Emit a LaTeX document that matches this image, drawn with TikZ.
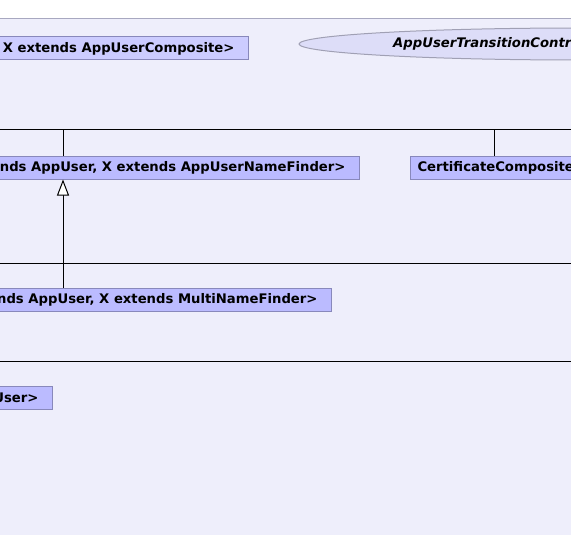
\documentclass[tikz,border=0pt]{standalone}
\usepackage{fontspec}
\setmainfont{DejaVu Sans}
\usetikzlibrary{arrows.meta,positioning,shapes.geometric}

\definecolor{pkgbg}{HTML}{EEEEFB}
\definecolor{pkgline}{HTML}{A8A8C0}
\definecolor{clsfill}{HTML}{BBBBFF}
\definecolor{clsfilltop}{HTML}{CCCCFF}
\definecolor{clsline}{HTML}{8888BB}
\definecolor{ucfill}{HTML}{DDDDF8}
\definecolor{ucline}{HTML}{A0A0B4}

\newcommand{\rpad}{\hspace*{7pt}}

\begin{document}
\begin{tikzpicture}[x=1pt, y=-1pt,
    every node/.style={font=\fontsize{13.2}{15}\selectfont\bfseries},
    cls/.style={rectangle, draw=clsline, fill=clsfill, line width=1pt,
                minimum height=23pt, inner xsep=7pt, inner ysep=0pt},
    uc/.style={ellipse, draw=ucline, fill=ucfill, line width=1pt,
               minimum width=562pt, minimum height=32pt},
    bus/.style={line width=1pt},
    inh/.style={line width=1pt, -{Triangle[length=16pt, width=12pt, fill=white]}},
  ]
  \useasboundingbox (0,0) rectangle (571,535);
  \clip (0,0) rectangle (571,535);
  \fill[pkgbg] (-5,19) rectangle (580,540);
  \draw[pkgline, line width=1pt] (-5,19) -- (580,19);

  \node[cls, fill=clsfilltop, anchor=east] (boxComposite) at (249,48.5) {X extends AppUserComposite>\rpad};
  \node[uc] (ucTransition) at (580,44) {};
  \node[anchor=west, inner sep=0pt, font=\fontsize{13.2}{15}\selectfont\bfseries\itshape] (ucText) at (393,44) {AppUserTransitionContr};

  \node[cls, anchor=east] (boxNameFinder) at (360,167.5) {nds AppUser, X extends AppUserNameFinder>\rpad};
  \node[cls, anchor=west] (boxCert) at (410,167.5) {CertificateComposite};
  \node[cls, anchor=east] (boxMulti) at (332,299.5) {nds AppUser, X extends MultiNameFinder>\rpad};
  \node[cls, anchor=east] (boxUser) at (53,398) {User>\rpad};

  % level buses
  \coordinate (busA) at (-5,130);
  \coordinate (busB) at (-5,263);
  \coordinate (busC) at (-5,361);
  \draw[bus] (busA) -- ++(590,0);
  \draw[bus] (busB) -- ++(590,0);
  \draw[bus] (busC) -- ++(590,0);

  \coordinate (gen) at (63,0);
  \coordinate (cert) at (494,0);
  \draw[bus] (busA -| gen) -- (boxNameFinder.north -| gen);
  \draw[bus] (busA -| cert) -- (boxCert.north -| cert);
  \draw[inh] (boxMulti.north -| gen) -- (boxNameFinder.south -| gen);
\end{tikzpicture}
\end{document}
